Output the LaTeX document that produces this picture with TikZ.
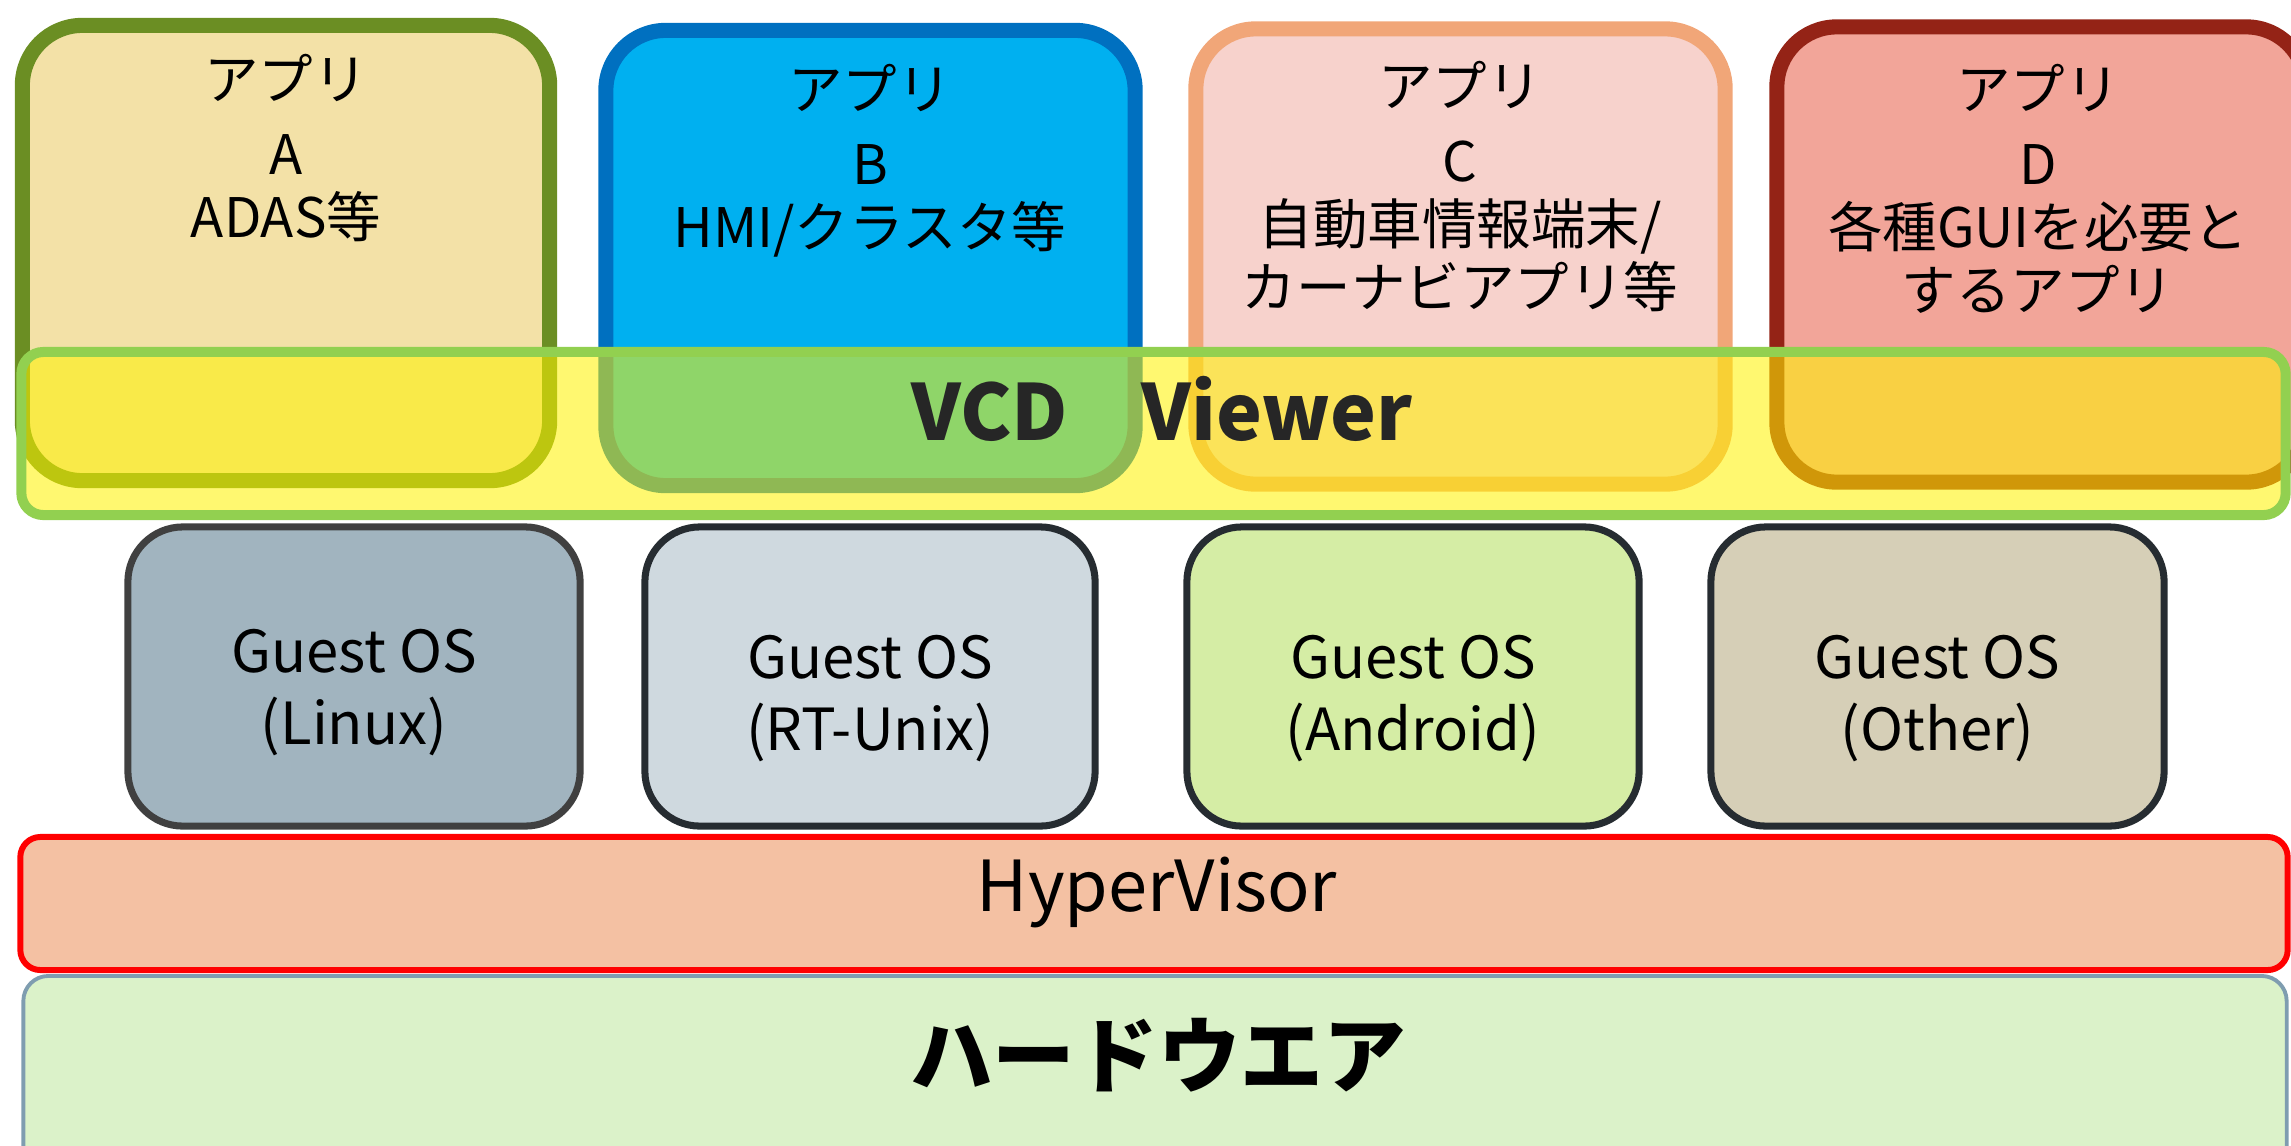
\documentclass[tikz,border=0pt]{standalone}
\usepackage{fontspec}
\setmainfont{Noto Sans CJK JP}
\definecolor{appAfill}{RGB}{243,225,167}
\definecolor{appAline}{RGB}{107,142,35}
\definecolor{appBfill}{RGB}{0,176,240}
\definecolor{appBline}{RGB}{0,112,192}
\definecolor{appCfill}{RGB}{247,210,204}
\definecolor{appCline}{RGB}{241,166,120}
\definecolor{appDfill}{RGB}{242,165,153}
\definecolor{appDline}{RGB}{148,35,22}
\definecolor{vcdline}{RGB}{146,208,80}
\definecolor{vcdtext}{RGB}{38,38,38}
\definecolor{gosAfill}{RGB}{161,180,191}
\definecolor{gosAline}{RGB}{64,64,64}
\definecolor{gosBfill}{RGB}{207,217,223}
\definecolor{gosCfill}{RGB}{213,237,165}
\definecolor{gosDfill}{RGB}{214,207,183}
\definecolor{gosline}{RGB}{38,44,49}
\definecolor{hvfill}{RGB}{244,193,163}
\definecolor{hwfill}{RGB}{219,242,201}
\definecolor{hwline}{RGB}{127,157,176}
\begin{document}
\begin{tikzpicture}[x=0.01cm,y=-0.01cm,
  appbox/.style={rectangle, rounded corners=0.6cm, line width=4.3pt, inner sep=0pt,
                 minimum height=4.55cm},
  apptext/.style={anchor=north, align=center, inner sep=0pt,
                  font=\fontsize{15.5pt}{18pt}\selectfont},
  osbox/.style={rectangle, rounded corners=0.55cm, line width=2pt, inner sep=0pt,
                minimum height=2.99cm},
  ostext/.style={anchor=north, align=center, inner sep=0pt,
                 font=\fontsize{16.5pt}{20.5pt}\selectfont},
  layerbox/.style={rectangle, inner sep=0pt}]
\useasboundingbox (0,0) rectangle (2291,1145);
\clip (0,0) rectangle (2291,1145);

% application boxes
\node[appbox, fill=appAfill, draw=appAline, minimum width=5.27cm] (appA) at (286,253) {};
\node[appbox, fill=appBfill, draw=appBline, minimum width=5.29cm] (appB) at (870.5,258) {};
\node[appbox, fill=appCfill, draw=appCline, minimum width=5.29cm] (appC) at (1460.5,256.5) {};
\node[appbox, fill=appDfill, draw=appDline, minimum width=5.29cm] (appD) at (2041.5,254.5) {};

\node[apptext] (appAt) at (286,53) {アプリ\\[3.4pt]A\\ADAS等};
\node[apptext] (appBt) at (870,63) {アプリ\\[3.4pt]B\\HMI/クラスタ等};
\node[apptext] (appCt) at (1460,60) {アプリ\\[3.4pt]C\\自動車情報端末/\\カーナビアプリ等};
\node[apptext] (appDt) at (2038,63) {アプリ\\[3.4pt]D\\各種GUIを必要と\\するアプリ};

% translucent viewer band across all applications
\node[layerbox, rounded corners=0.22cm, line width=2.85pt, draw=vcdline,
      fill=yellow, fill opacity=0.56, minimum width=22.63cm, minimum height=1.63cm]
      (vcd) at (1153.5,433.5) {};
\node[anchor=base, inner sep=0pt, text=vcdtext,
      font=\fontsize{22pt}{26pt}\selectfont\bfseries] (vcdt) at (1162,440)
      {VCD\hspace{0.95em}Viewer};

% guest operating systems
\node[osbox, fill=gosAfill, draw=gosAline, minimum width=4.52cm] (gosA) at (354,676.5) {};
\node[osbox, fill=gosBfill, draw=gosline, minimum width=4.50cm] (gosB) at (870,676.5) {};
\node[osbox, fill=gosCfill, draw=gosline, minimum width=4.52cm] (gosC) at (1413,676.5) {};
\node[osbox, fill=gosDfill, draw=gosline, minimum width=4.53cm] (gosD) at (1937.5,676.5) {};

\node[ostext] (gosAt) at (354,628) {Guest OS\\(Linux)};
\node[ostext] (gosBt) at (870,634) {Guest OS\\(RT-Unix)};
\node[ostext] (gosCt) at (1413,634) {Guest OS\\(Android)};
\node[ostext] (gosDt) at (1937.5,634) {Guest OS\\(Other)};

% hypervisor and hardware layers
\node[layerbox, rounded corners=0.2cm, line width=1.7pt, draw=red, fill=hvfill,
      minimum width=22.66cm, minimum height=1.33cm] (hv) at (1154,903.5) {};
\node[anchor=base, inner sep=0pt, font=\fontsize{20pt}{24pt}\selectfont] (hvt)
      at (1157,911) {HyperVisor};

\node[layerbox, rounded corners=0.25cm, line width=1.1pt, draw=hwline, fill=hwfill,
      minimum width=22.62cm, minimum height=2.04cm] (hw) at (1155,1078) {};
\node[anchor=base, inner sep=0pt, font=\fontsize{23.5pt}{28pt}\selectfont\bfseries] (hwt)
      at (1158,1086) {ハードウエア};
\end{tikzpicture}
\end{document}
